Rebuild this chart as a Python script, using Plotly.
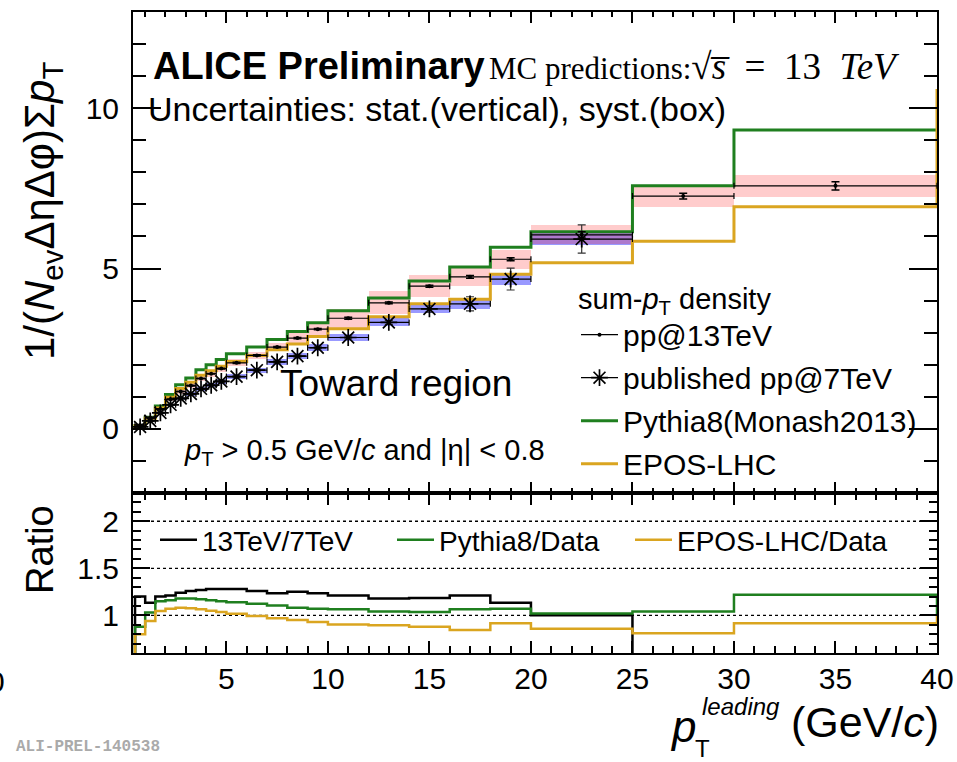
import plotly.graph_objects as go

# ---------------- data ----------------
edges = [0.5, 1, 1.5, 2, 2.5, 3, 3.5, 4, 4.5, 5, 6, 7, 8, 9, 10, 12, 14, 16, 18, 20, 25, 30, 40]

pp13 = [0.12, 0.35, 0.62, 0.92, 1.165, 1.35, 1.57, 1.72, 1.88, 2.06, 2.29, 2.55, 2.83, 3.11, 3.45, 3.93, 4.45, 4.74, 5.29, 6.05, 7.26, 7.58]
pp13_stat = [0.01, 0.01, 0.01, 0.01, 0.01, 0.01, 0.01, 0.01, 0.01, 0.02, 0.02, 0.02, 0.02, 0.02, 0.03, 0.03, 0.03, 0.04, 0.05, 0.1, 0.09, 0.13]
pp13_sys = [0.01, 0.02, 0.035, 0.05, 0.065, 0.075, 0.085, 0.09, 0.1, 0.11, 0.12, 0.13, 0.16, 0.17, 0.3, 0.36, 0.34, 0.28, 0.29, 0.3, 0.34, 0.34]

pp7 = [0.06, 0.25, 0.5, 0.75, 0.95, 1.09, 1.25, 1.36, 1.48, 1.63, 1.83, 2.09, 2.27, 2.53, 2.85, 3.32, 3.74, 3.9, 4.67, 5.92]
pp7_stat = [0.02, 0.02, 0.02, 0.02, 0.02, 0.02, 0.02, 0.02, 0.03, 0.03, 0.03, 0.03, 0.03, 0.03, 0.04, 0.06, 0.1, 0.22, 0.34, 0.44]
pp7_sys = [0.01, 0.02, 0.03, 0.04, 0.05, 0.055, 0.06, 0.065, 0.07, 0.075, 0.08, 0.09, 0.1, 0.11, 0.115, 0.125, 0.12, 0.16, 0.17, 0.19]

pythia = [0.105, 0.36, 0.71, 1.07, 1.375, 1.59, 1.84, 2.0, 2.16, 2.34, 2.55, 2.79, 3.04, 3.31, 3.68, 4.08, 4.61, 5.05, 5.66, 6.15, 7.58, 9.32]
epos = [0.096, 0.33, 0.65, 0.985, 1.26, 1.45, 1.67, 1.81, 1.95, 2.1, 2.29, 2.47, 2.65, 2.88, 3.12, 3.5, 3.9, 4.04, 4.82, 5.18, 5.85, 6.93]
epos_overflow = 10.6

ratio_13_7 = [1.2, 1.135, 1.2, 1.21, 1.24, 1.26, 1.27, 1.28, 1.28, 1.28, 1.26, 1.234, 1.25, 1.234, 1.21, 1.18, 1.185, 1.21, 1.135, 1.0, 0, 0]
ratio_py = [0.88, 1.03, 1.15, 1.16, 1.18, 1.18, 1.17, 1.16, 1.15, 1.14, 1.124, 1.106, 1.08, 1.07, 1.064, 1.04, 1.035, 1.064, 1.07, 1.02, 1.04, 1.22]
ratio_ep = [0.8, 0.94, 1.046, 1.07, 1.08, 1.075, 1.064, 1.05, 1.035, 1.018, 0.993, 0.968, 0.95, 0.93, 0.904, 0.894, 0.88, 0.844, 0.915, 0.858, 0.81, 0.915]
ratio_overflow = 1.0
ratio_ref_lines = [1, 1.5, 2]

x_ticks = [5, 10, 15, 20, 25, 30, 35, 40]
y_ticks_top = [0, 5, 10]
y_ticks_ratio = [1, 1.5, 2]
y_ticktext_ratio = ["1", "1.5", "2"]

# ---------------- styling ----------------
FONT = "Liberation Sans, Arial, sans-serif"
SERIF = "Liberation Serif, Times New Roman, serif"
GREEN = "#1f7f1f"
GOLD = "#DAA520"
PINK = "rgba(255,0,0,0.2)"
BLUE = "rgba(0,0,255,0.4)"

centers = [(a + b) / 2 for a, b in zip(edges[:-1], edges[1:])]
widths = [b - a for a, b in zip(edges[:-1], edges[1:])]
halfw = [w / 2 for w in widths]


def step_xy(vals, start, end=None):
    xs = [edges[0]] + edges[:-1] + [edges[-1]]
    ys = [start] + list(vals) + [vals[-1]]
    if end is not None:
        xs.append(edges[-1])
        ys.append(end)
    return xs, ys


fig = go.Figure()

# systematic boxes
n7 = len(pp7)
fig.add_trace(go.Bar(x=centers[:n7], width=widths[:n7],
                     base=[v - s for v, s in zip(pp7, pp7_sys)],
                     y=[2 * s for s in pp7_sys], marker=dict(color=BLUE, line=dict(width=0)),
                     showlegend=False, xaxis="x", yaxis="y", hoverinfo="skip"))
fig.add_trace(go.Bar(x=centers, width=widths,
                     base=[v - s for v, s in zip(pp13, pp13_sys)],
                     y=[2 * s for s in pp13_sys], marker=dict(color=PINK, line=dict(width=0)),
                     showlegend=False, xaxis="x", yaxis="y", hoverinfo="skip"))

# MC step lines (top)
xs, ys = step_xy(pythia, 0)
fig.add_trace(go.Scatter(x=xs, y=ys, mode="lines", line=dict(color=GREEN, width=3, shape="hv"),
                         showlegend=False, xaxis="x", yaxis="y"))
xs, ys = step_xy(epos, 0, epos_overflow)
fig.add_trace(go.Scatter(x=xs, y=ys, mode="lines", line=dict(color=GOLD, width=3, shape="hv"),
                         showlegend=False, xaxis="x", yaxis="y"))

# data points
fig.add_trace(go.Scatter(x=centers[:n7], y=pp7, mode="markers",
                         marker=dict(symbol="asterisk-open", size=14, color="black", line=dict(width=1.7, color="black")),
                         error_x=dict(type="data", array=halfw[:n7], color="black", thickness=1.2, width=3),
                         error_y=dict(type="data", array=pp7_stat, color="#333", thickness=1.2, width=4),
                         showlegend=False, xaxis="x", yaxis="y"))
fig.add_trace(go.Scatter(x=centers, y=pp13, mode="markers",
                         marker=dict(symbol="circle", size=4, color="black"),
                         error_x=dict(type="data", array=halfw, color="black", thickness=1.2, width=3),
                         error_y=dict(type="data", array=pp13_stat, color="black", thickness=1.5, width=4),
                         showlegend=False, xaxis="x", yaxis="y"))

# legend entries (top panel)
fig.add_trace(go.Scatter(x=[None], y=[None], mode="lines+markers", name="pp@13TeV", legendgroup="a",
                         line=dict(color="black", width=1.2), marker=dict(symbol="circle", size=4, color="black"),
                         legend="legend", xaxis="x", yaxis="y"))
fig.add_trace(go.Scatter(x=[None], y=[None], mode="lines+markers", name="published pp@7TeV", legendgroup="b",
                         line=dict(color="black", width=1.2),
                         marker=dict(symbol="asterisk-open", size=14, color="black", line=dict(width=1.7, color="black")),
                         legend="legend", xaxis="x", yaxis="y"))
fig.add_trace(go.Scatter(x=[None], y=[None], mode="lines", name="Pythia8(Monash2013)", legendgroup="c",
                         line=dict(color=GREEN, width=3), legend="legend", xaxis="x", yaxis="y"))
fig.add_trace(go.Scatter(x=[None], y=[None], mode="lines", name="EPOS-LHC", legendgroup="d",
                         line=dict(color=GOLD, width=3), legend="legend", xaxis="x", yaxis="y"))

# ratio panel
xs, ys = step_xy(ratio_13_7, 0)
fig.add_trace(go.Scatter(x=xs, y=ys, mode="lines", name="13TeV/7TeV", line=dict(color="black", width=2.5, shape="hv"),
                         legend="legend2", xaxis="x2", yaxis="y2"))
xs, ys = step_xy(ratio_py, 0, ratio_overflow)
fig.add_trace(go.Scatter(x=xs, y=ys, mode="lines", name="Pythia8/Data", line=dict(color=GREEN, width=2.5, shape="hv"),
                         legend="legend3", xaxis="x2", yaxis="y2"))
xs, ys = step_xy(ratio_ep, 0, ratio_overflow)
fig.add_trace(go.Scatter(x=xs, y=ys, mode="lines", name="EPOS-LHC/Data", line=dict(color=GOLD, width=2.5, shape="hv"),
                         legend="legend4", xaxis="x2", yaxis="y2"))

# ---------------- layout ----------------
W, H = 957, 762
L, R, T, B = 133, 20, 12, 109
PH = H - T - B
split = (H - B - 493) / PH


def xp(px):
    return (px - L) / (W - L - R)


def yp(py):
    return (H - B - py) / PH


axis_common = dict(showgrid=False, zeroline=False, showline=True, linecolor="black", linewidth=2,
                   mirror="allticks", ticks="inside", tickcolor="black", tickwidth=2, automargin=False)

shapes = [dict(type="line", xref="x2 domain", yref="y2", x0=0, x1=1, y0=v, y1=v,
               line=dict(color="black", width=1.3, dash="dot"), layer="below") for v in ratio_ref_lines]

ann = []


def add_text(text, px, py, size, xanchor="left", bold=False, family=FONT, color="black", angle=0):
    if bold:
        text = "<b>" + text + "</b>"
    ann.append(dict(text=text, xref="paper", yref="paper", x=xp(px), y=yp(py), xanchor=xanchor,
                    yanchor="middle", showarrow=False, textangle=angle,
                    font=dict(size=size, family=family, color=color)))


NB = "\u00a0"
add_text("ALICE Preliminary", 151, 66, 38, bold=True)
add_text("MC predictions:<span style=\"font-size:37px\">√<i>s̅</i>" + NB * 2 + "=" + NB * 2 + "13" + NB * 2
         + "<i>TeV</i></span>", 487, 66, 31, family=SERIF)
add_text("Uncertainties: stat.(vertical), syst.(box)", 146, 109, 34)
add_text("Toward region", 278, 383, 37)
add_text("<i>p</i><sub>T</sub> > 0.5 GeV/<i>c</i> and |η| < 0.8", 182, 452, 29)
add_text("1/(<i>N</i><sub>ev</sub>ΔηΔφ)Σ<i>p</i><sub>T</sub>", 42, 211, 42, xanchor="center", angle=-90)
add_text("Ratio", 40, 550, 38, xanchor="center", angle=-90)
add_text("<i>p</i>", 668, 726, 44)
add_text("T", 693, 748, 24)
add_text("<i>leading</i>", 700, 707, 24)
add_text("(GeV/<i>c</i>)", 789, 722, 43)
add_text("ALI-PREL-140538", 14, 747, 16, family="Liberation Mono, Courier New, monospace", color="#aaaaaa", bold=True)
add_text("0", -4, 681, 30, xanchor="center")

ratio_legend = dict(yanchor="middle", y=yp(540), xanchor="left", bgcolor="rgba(0,0,0,0)",
                    font=dict(size=28, family=FONT), itemwidth=37, orientation="h")

fig.update_layout(
    width=W, height=H, margin=dict(l=L, r=R, t=T, b=B, autoexpand=False),
    paper_bgcolor="white", plot_bgcolor="white",
    font=dict(family=FONT, size=28, color="black"),
    barmode="overlay", bargap=0,
    xaxis=dict(axis_common, domain=[0, 1], range=[0.4, 40], anchor="y", showticklabels=False,
               tickvals=x_ticks, ticklen=11, minor=dict(dtick=1, tick0=0, ticklen=5, ticks="inside", tickcolor="black", tickwidth=1.5)),
    yaxis=dict(axis_common, domain=[split, 1], range=[-2, 13], anchor="x",
               tickvals=y_ticks_top, ticklen=28, tickfont=dict(size=30), ticklabelstandoff=6,
               minor=dict(dtick=1, tick0=0, ticklen=13, ticks="inside", tickcolor="black", tickwidth=2)),
    xaxis2=dict(axis_common, domain=[0, 1], range=[0.4, 40], anchor="y2",
                tickvals=x_ticks, ticklen=12, tickfont=dict(size=30), ticklabelstandoff=-2,
                minor=dict(dtick=1, tick0=0, ticklen=7, ticks="inside", tickcolor="black", tickwidth=1.5)),
    yaxis2=dict(axis_common, domain=[0, split], range=[0.6, 2.3], anchor="x2",
                tickvals=y_ticks_ratio, ticktext=y_ticktext_ratio, ticklen=17, tickfont=dict(size=30),
                ticklabelstandoff=6,
                minor=dict(dtick=0.1, tick0=0, ticklen=8, ticks="inside", tickcolor="black", tickwidth=1.5)),
    legend=dict(x=xp(576), y=yp(271), xanchor="left", yanchor="top", bgcolor="rgba(0,0,0,0)",
                font=dict(size=30, family=FONT), title=dict(text="sum-<i>p</i><sub>T</sub> density", font=dict(size=29)),
                traceorder="grouped", itemwidth=37, tracegroupgap=1),
    legend2=dict(ratio_legend, x=xp(155)),
    legend3=dict(ratio_legend, x=xp(392)),
    legend4=dict(ratio_legend, x=xp(630)),
    shapes=shapes, annotations=ann,
)

fig.write_html("out.html")
